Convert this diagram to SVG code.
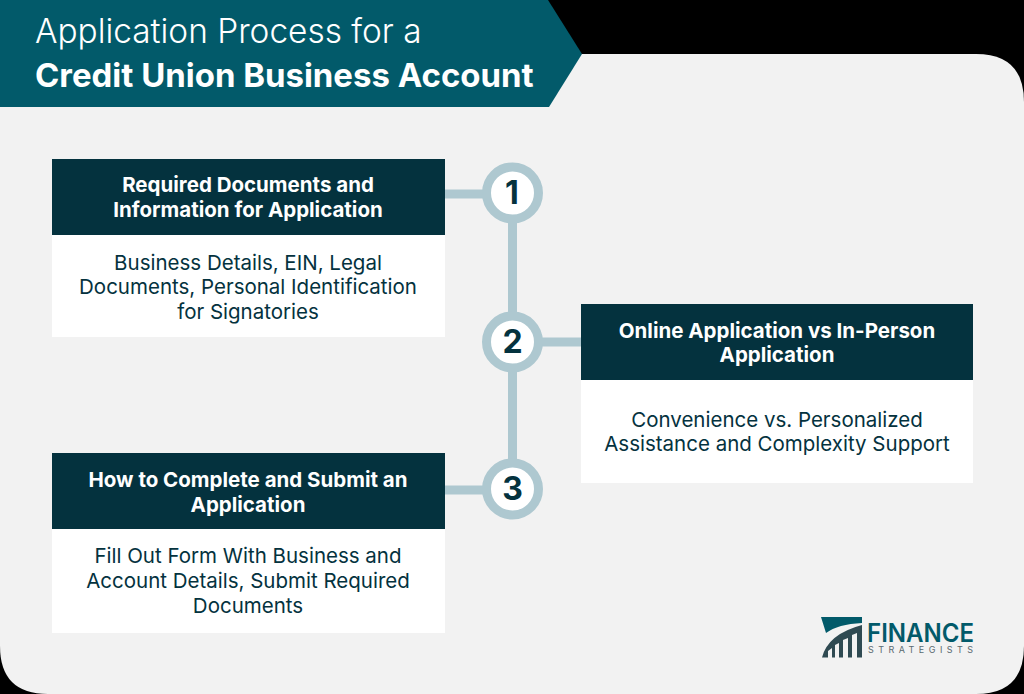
<svg xmlns="http://www.w3.org/2000/svg" width="1024" height="694" viewBox="0 0 1024 694">
<style>
.f{font-family:Inter,"Liberation Sans",sans-serif}
.hd{fill:#04323e}
.bd{fill:#fff}
.ht{font-size:20.500px;font-weight:700;fill:#fff;text-anchor:middle}
.bt{font-size:20.500px;fill:#04323e;text-anchor:middle}
.c{fill:#fff;stroke:#aec8d0;stroke-width:9}
.n{font-size:32px;font-weight:700;fill:#04323e;text-anchor:middle}
.l{stroke:#aec8d0;stroke-width:9;fill:none}
</style>
<rect width="1024" height="694" fill="#000"/>
<path d="M0 54H976Q1024 54 1024 102V646Q1024 694 976 694H48Q0 694 0 646Z" fill="#f2f2f2"/>
<g id="title">
<path d="M0 0H548L582 54L549 107H0Z" fill="#025a6a"/>
<text class="f" x="35" y="43" font-size="33.400" fill="#fff" font-weight="300">Application Process for a</text>
<text class="f" x="35" y="87" font-size="32.950" fill="#fff" font-weight="700">Credit Union Business Account</text>
</g>
<g id="connectors">
<path class="l" d="M445 194H484M581 342H542M445 490H484M512.500 222V314M512.500 370V462"/>
</g>
<g id="card-1">
<rect class="bd" x="52" y="235" width="393" height="102"/>
<rect class="hd" x="52" y="159" width="393" height="76"/>
<text class="f ht" x="248" y="192">Required Documents and</text>
<text class="f ht" x="248" y="217">Information for Application</text>
<text class="f bt" x="248" y="270">Business Details, EIN, Legal</text>
<text class="f bt" x="248" y="294">Documents, Personal Identification</text>
<text class="f bt" x="248" y="319">for Signatories</text>
</g>
<g id="card-2">
<rect class="bd" x="581" y="380" width="392" height="103"/>
<rect class="hd" x="581" y="304" width="392" height="76"/>
<text class="f ht" x="777" y="337.500">Online Application vs In-Person</text>
<text class="f ht" x="777" y="362">Application</text>
<text class="f bt" x="777" y="426.500">Convenience vs. Personalized</text>
<text class="f bt" x="777" y="451">Assistance and Complexity Support</text>
</g>
<g id="card-3">
<rect class="bd" x="52" y="529" width="393" height="104"/>
<rect class="hd" x="52" y="453" width="393" height="76"/>
<text class="f ht" x="248" y="487">How to Complete and Submit an</text>
<text class="f ht" x="248" y="512">Application</text>
<text class="f bt" x="248" y="563">Fill Out Form With Business and</text>
<text class="f bt" x="248" y="588">Account Details, Submit Required</text>
<text class="f bt" x="248" y="612.500">Documents</text>
</g>
<g id="step-1"><circle class="c" cx="512.500" cy="193" r="26"/><text class="f n" x="512" y="204">1</text></g>
<g id="step-2"><circle class="c" cx="512.500" cy="342" r="26"/><text class="f n" x="512.500" y="353">2</text></g>
<g id="step-3"><circle class="c" cx="512.500" cy="489" r="26"/><text class="f n" x="512.500" y="500">3</text></g>
<g id="logo">
<path d="M821 617H862V623Q838 624 826 633Z" fill="#025a6a"/>
<path d="M822 657.500Q828 634 862 625V657.500H857V633L852 635V657.500H848V638L843 640V657.500H839V643L835 645V657.500H832V648L828 651V657.500Z" fill="#2f4a52"/>
<text x="867" y="642" font-family="Inter,'Liberation Sans',sans-serif" font-size="25" font-weight="600" fill="#025a6a" textLength="107" lengthAdjust="spacingAndGlyphs">FINANCE</text>
<text x="868" y="653" font-family="Inter,'Liberation Sans',sans-serif" font-size="9" fill="#5a6a70" textLength="105" lengthAdjust="spacing">STRATEGISTS</text>
</g>
</svg>
